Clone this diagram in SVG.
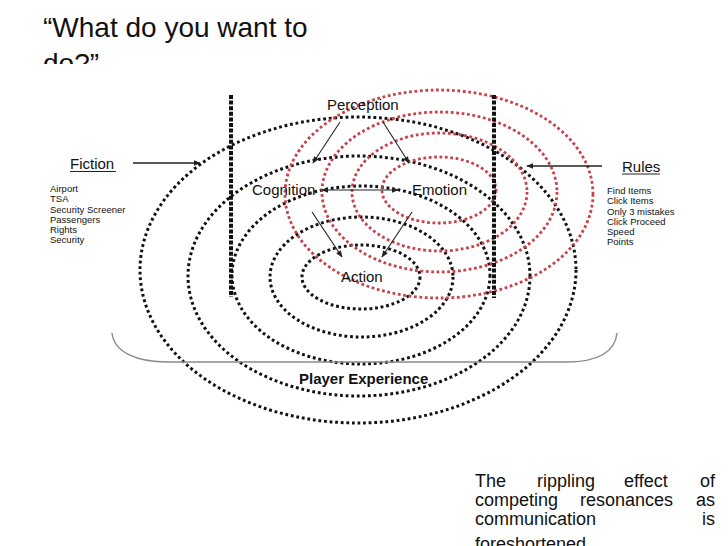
<svg xmlns="http://www.w3.org/2000/svg" width="728" height="546" viewBox="0 0 728 546">
  <defs>
    <style>
      text { font-family: "Liberation Sans", Arial, sans-serif; fill: #111; }
      .title { font-size: 28px; }
      .lbl { font-size: 15px; }
      .small { font-size: 9.5px; }
      .cap { font-size: 18px; }
      .bk { fill: none; stroke: #111; stroke-width: 3; stroke-dasharray: 2.8 2.8; }
      .rd { fill: none; stroke: #c8424a; stroke-width: 2.8; stroke-dasharray: 2.8 2.6; }
      .vline { fill: none; stroke: #111; stroke-width: 4; stroke-dasharray: 4 1.6; }
      .arr { fill: none; stroke: #222; stroke-width: 1.1; }
      .arr2 { fill: none; stroke: #222; stroke-width: 1.5; }
      .ul { stroke: #222; stroke-width: 1; }
    </style>
    <marker id="ah" viewBox="0 0 10 10" refX="9" refY="5" markerWidth="7" markerHeight="7" markerUnits="userSpaceOnUse" orient="auto-start-reverse">
      <path d="M0,1 L10,5 L0,9 z" fill="#222"/>
    </marker>
    <clipPath id="titleClip"><rect x="0" y="0" width="728" height="64"/></clipPath>
  </defs>
  <rect width="728" height="546" fill="#fff"/>

  <g id="title" clip-path="url(#titleClip)">
    <text class="title" x="43" y="37">“What do you want to</text>
    <text class="title" x="43" y="73">do?”</text>
  </g>

  <g id="ripples">
    <ellipse class="bk" cx="358" cy="270" rx="218" ry="153"/>
    <ellipse class="bk" cx="359" cy="276" rx="171" ry="120"/>
    <ellipse class="bk" cx="361" cy="275" rx="129" ry="89"/>
    <ellipse class="bk" cx="361.5" cy="277" rx="91.5" ry="60"/>
    <ellipse class="bk" cx="361" cy="277" rx="59" ry="32"/>
    <ellipse class="rd" cx="439" cy="194" rx="154" ry="104"/>
    <ellipse class="rd" cx="439.5" cy="192" rx="117.5" ry="80"/>
    <ellipse class="rd" cx="439.5" cy="192" rx="87.5" ry="59"/>
    <ellipse class="rd" cx="439" cy="190" rx="57" ry="33"/>
    <line class="vline" x1="231" y1="95" x2="231" y2="297"/>
    <line class="vline" x1="494" y1="95" x2="494" y2="298"/>
  </g>

  <g id="connectors">
    <line class="arr2" x1="133" y1="163" x2="200" y2="163" marker-end="url(#ah)"/>
    <line class="arr2" x1="602" y1="166" x2="527" y2="166" marker-end="url(#ah)"/>
    <line class="arr" x1="340" y1="122" x2="313" y2="163" marker-end="url(#ah)"/>
    <line class="arr" x1="383" y1="122" x2="409" y2="163" marker-end="url(#ah)"/>
    <line class="arr" x1="322" y1="190" x2="398" y2="190" marker-start="url(#ah)" marker-end="url(#ah)"/>
    <line class="arr" x1="312" y1="212" x2="342" y2="257" marker-end="url(#ah)"/>
    <line class="arr" x1="412" y1="212" x2="382" y2="257" marker-end="url(#ah)"/>
  </g>

  <g id="fiction">
    <text class="lbl" x="70" y="169">Fiction</text>
    <line class="ul" x1="70" y1="171.5" x2="116" y2="171.5"/>
    <text class="small" x="50" y="192">Airport</text>
    <text class="small" x="50" y="202">TSA</text>
    <text class="small" x="50" y="212.5">Security Screener</text>
    <text class="small" x="50" y="223">Passengers</text>
    <text class="small" x="50" y="233">Rights</text>
    <text class="small" x="50" y="243">Security</text>
  </g>

  <g id="rules">
    <text class="lbl" x="622" y="171.5">Rules</text>
    <line class="ul" x1="622" y1="174" x2="660" y2="174"/>
    <text class="small" x="607" y="193.5">Find Items</text>
    <text class="small" x="607" y="204">Click Items</text>
    <text class="small" x="607" y="214.5">Only 3 mistakes</text>
    <text class="small" x="607" y="224.5">Click Proceed</text>
    <text class="small" x="607" y="235">Speed</text>
    <text class="small" x="607" y="245">Points</text>
  </g>

  <g id="perception"><text class="lbl" x="327" y="109.5">Perception</text></g>
  <g id="cognition"><text class="lbl" x="252" y="195">Cognition</text></g>
  <g id="emotion"><text class="lbl" x="412" y="195">Emotion</text></g>
  <g id="action"><text class="lbl" x="341" y="282">Action</text></g>

  <g id="player-experience">
    <path d="M112,333 C114,352 136,362 168,362 L566,362 C598,362 615,352 617,333" fill="none" stroke="#8a8a8a" stroke-width="1.4"/>
    <text class="lbl" x="299" y="383.5" font-weight="bold">Player Experience</text>
  </g>

  <g id="caption">
    <text class="cap" x="475" y="487">The</text>
    <text class="cap" x="537" y="487">rippling</text>
    <text class="cap" x="624" y="487">effect</text>
    <text class="cap" x="715" y="487" text-anchor="end">of</text>
    <text class="cap" x="475" y="506">competing</text>
    <text class="cap" x="580" y="506">resonances</text>
    <text class="cap" x="715" y="506" text-anchor="end">as</text>
    <text class="cap" x="475" y="525">communication</text>
    <text class="cap" x="715" y="525" text-anchor="end">is</text>
    <text class="cap" x="475" y="550">foreshortened</text>
  </g>
</svg>
